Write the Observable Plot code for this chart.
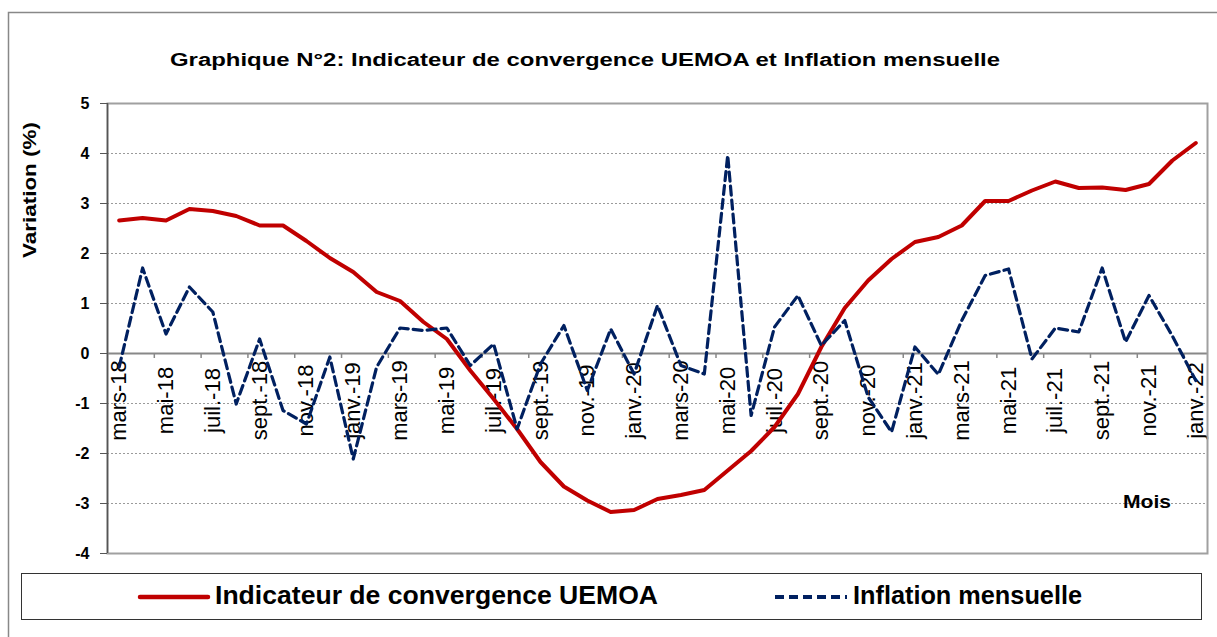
<!DOCTYPE html>
<html>
<head>
<meta charset="utf-8">
<script src="https://cdn.jsdelivr.net/npm/d3@7"></script>
<script src="https://cdn.jsdelivr.net/npm/@observablehq/plot@0.6"></script>
<style>
  html, body { margin: 0; padding: 0; background: white; }
  #wrap { position: relative; width: 1217px; height: 637px; overflow: hidden; font-family: "Liberation Sans", Arial, sans-serif; }
  #wrap > svg { position: absolute; left: 0; top: 0; }
</style>
</head>
<body>
<div id="wrap"></div>
<script>
// ---------- data ----------
const months = [
  "mars-18","avr.-18","mai-18","juin-18","juil.-18","août-18","sept.-18","oct.-18","nov.-18","déc.-18",
  "janv.-19","févr.-19","mars-19","avr.-19","mai-19","juin-19","juil.-19","août-19","sept.-19","oct.-19","nov.-19","déc.-19",
  "janv.-20","févr.-20","mars-20","avr.-20","mai-20","juin-20","juil.-20","août-20","sept.-20","oct.-20","nov.-20","déc.-20",
  "janv.-21","févr.-21","mars-21","avr.-21","mai-21","juin-21","juil.-21","août-21","sept.-21","oct.-21","nov.-21","déc.-21",
  "janv.-22"
];
const indicateur = [2.66, 2.71, 2.66, 2.89, 2.85, 2.75, 2.56, 2.56, 2.25, 1.91, 1.63, 1.23, 1.05, 0.63, 0.29, -0.34,
  -0.91, -1.51, -2.17, -2.66, -2.94, -3.17, -3.13, -2.91, -2.83, -2.73, -2.34, -1.95, -1.47, -0.81, 0.13, 0.91,
  1.46, 1.89, 2.23, 2.33, 2.56, 3.05, 3.05, 3.26, 3.44, 3.31, 3.32, 3.27, 3.39, 3.86, 4.21];
const inflation = [-0.27, 1.71, 0.39, 1.33, 0.83, -1.01, 0.29, -1.14, -1.41, -0.07, -2.11, -0.27, 0.51, 0.46, 0.51, -0.24,
  0.19, -1.51, -0.21, 0.56, -0.74, 0.49, -0.41, 0.96, -0.24, -0.41, 3.96, -1.24, 0.53, 1.16, 0.16, 0.66,
  -0.87, -1.57, 0.13, -0.42, 0.66, 1.56, 1.69, -0.11, 0.51, 0.43, 1.71, 0.23, 1.16, 0.35, -0.54];
const tickLabels = months.filter((d, i) => i % 2 === 0);
const yTicks = [-4, -3, -2, -1, 0, 1, 2, 3, 4, 5];
const gridTicks = [-3, -2, -1, 1, 2, 3, 4];
const seriesNames = ["Indicateur de convergence UEMOA", "Inflation mensuelle"];
const titleText = "Graphique N°2: Indicateur de convergence UEMOA et Inflation mensuelle";

// ---------- layout ----------
const W = 1217, H = 637;
const mL = 107, mR = 10, mT = 103, mB = 84;
const step = (W - mL - mR) / months.length;
const RED = "#C00000", BLUE = "#002060";
const FONT = "Liberation Sans, Arial, sans-serif";

const rows1 = months.map((m, i) => ({month: m, value: indicateur[i]}));
const rows2 = months.map((m, i) => ({month: m, value: inflation[i]}));
const boundaries = tickLabels.slice(1);

const chart = Plot.plot({
  width: W, height: H,
  marginLeft: mL, marginRight: mR, marginTop: mT, marginBottom: mB,
  style: {background: "transparent", fontFamily: FONT, color: "black", overflow: "visible"},
  x: {type: "point", domain: months, padding: 0.5, round: false, axis: null},
  y: {domain: [-4, 5], axis: null},
  marks: [
    Plot.gridY(gridTicks, {stroke: "#9a9a9a", strokeOpacity: 1, strokeDasharray: "2,2", strokeWidth: 1}),
    Plot.text(tickLabels, {x: d => d, y: 0, text: d => d, rotate: -90, dy: 47,
      fontSize: 22, textAnchor: "middle", lineAnchor: "middle", fill: "black"}),
    Plot.ruleY([0], {stroke: "#888", strokeWidth: 2}),
    Plot.ruleX(boundaries, {x: d => d, y1: 0, y2: -0.1, dx: -step / 2, stroke: "#888", strokeWidth: 1.5}),
    Plot.frame({stroke: "#a0a0a0", strokeWidth: 2}),
    Plot.ruleX([months[0]], {x: d => d, y1: -4, y2: 5, dx: -step / 2, stroke: "#555", strokeWidth: 1.5}),
    Plot.axisY({ticks: yTicks, tickSize: 7, tickPadding: 11, fontSize: 16, fontWeight: "bold",
      stroke: "#555", label: null, tickFormat: d => String(d)}),
    Plot.lineY(rows1, {x: "month", y: "value", stroke: RED, strokeWidth: 4, strokeLinejoin: "round"}),
    Plot.lineY(rows2, {x: "month", y: "value", stroke: BLUE, strokeWidth: 3.2, strokeDasharray: "9,5"})
  ]
});

const wrap = document.getElementById("wrap");
wrap.appendChild(chart);

// ---------- overlay: border, title, axis titles, legend ----------
const ov = d3.select(wrap).append("svg")
  .attr("width", W).attr("height", H)
  .style("font-family", FONT)
  .style("pointer-events", "none");

ov.append("path").attr("d", `M8.5,${H + 5} V12.5 H${W + 5}`)
  .attr("fill", "none").attr("stroke", "#888").attr("stroke-width", 1.5);

ov.append("text").attr("x", 170).attr("y", 66)
  .attr("font-size", 18).attr("font-weight", "bold")
  .attr("textLength", 830).attr("lengthAdjust", "spacingAndGlyphs")
  .text(titleText);

ov.append("text").attr("transform", "translate(36,190) rotate(-90)")
  .attr("text-anchor", "middle")
  .attr("font-size", 19).attr("font-weight", "bold")
  .attr("textLength", 136).attr("lengthAdjust", "spacingAndGlyphs")
  .text("Variation (%)");

ov.append("text").attr("x", 1123).attr("y", 508)
  .attr("font-size", 18).attr("font-weight", "bold")
  .attr("textLength", 48).attr("lengthAdjust", "spacingAndGlyphs")
  .text("Mois");

// legend
ov.append("rect").attr("x", 21.5).attr("y", 573.5).attr("width", 1180).attr("height", 46)
  .attr("fill", "white").attr("stroke", "#333").attr("stroke-width", 1);
ov.append("line").attr("x1", 140).attr("x2", 208).attr("y1", 597).attr("y2", 597)
  .attr("stroke", RED).attr("stroke-width", 4.5).attr("stroke-linecap", "round");
ov.append("text").attr("x", 215).attr("y", 604)
  .attr("font-size", 25).attr("font-weight", "bold")
  .attr("textLength", 443).attr("lengthAdjust", "spacingAndGlyphs")
  .text(seriesNames[0]);
ov.append("line").attr("x1", 775).attr("x2", 847).attr("y1", 597).attr("y2", 597)
  .attr("stroke", BLUE).attr("stroke-width", 4).attr("stroke-dasharray", "9,5");
ov.append("text").attr("x", 853).attr("y", 604)
  .attr("font-size", 25).attr("font-weight", "bold")
  .attr("textLength", 229).attr("lengthAdjust", "spacingAndGlyphs")
  .text(seriesNames[1]);
</script>
</body>
</html>
